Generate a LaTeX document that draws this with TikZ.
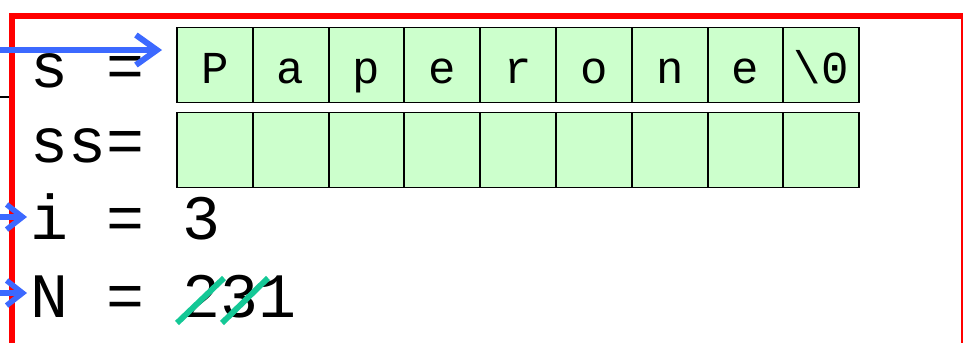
\documentclass[tikz,border=0pt]{standalone}
\usepackage{fontspec}
\usetikzlibrary{arrows.meta}
\newfontfamily\monofont{Liberation Mono}
\definecolor{framered}{RGB}{255,0,0}
\definecolor{ptrblue}{RGB}{60,105,255}
\definecolor{cellgreen}{RGB}{204,255,204}
\definecolor{strikegreen}{RGB}{20,200,150}

\begin{document}
\begin{tikzpicture}[x=0.02cm,y=-0.02cm,
        var/.style={anchor=base west,inner sep=0pt,font=\monofont\fontsize{36}{44}\selectfont},
        cell/.style={draw=black,line width=1.1pt,fill=cellgreen,minimum width=1.516cm,minimum height=1.5cm,
            inner sep=0pt,text height=0.72cm,text depth=0pt,font=\monofont\fontsize{26}{32}\selectfont},
        ptr/.style={-{Straight Barb[length=0.42cm,width=0.6cm]},line width=3.4pt,ptrblue},
        ptrsmall/.style={-{Straight Barb[length=0.32cm,width=0.5cm]},line width=3.1pt,ptrblue},
        strike/.style={line width=3.3pt,strikegreen}]
        \useasboundingbox(0,0)rectangle(963,342);
        \clip(0,0)rectangle(963,342);

        % frame of the stack
        \draw[line width=0.04cm](0,97)--(10,97);
        \draw[framered,line width=0.11cm](12,16)rectangle(964,420);

        % the two arrays
        \foreach \c [count=\k] in {P,a,p,e,r,o,n,e,\textbackslash 0}
            \node[cell](s\k)at({214.9+75.8*(\k-1)},65){\c};
        \foreach \k in {1,...,9}
            \node[cell](ss\k)at({214.9+75.8*(\k-1)},150){};

        % variables
        \node[var](vs)at(30.5,87){s =};
        \node[var](vss)at(30.5,162){ss=};
        \node[var](vi)at(30.5,239){i = 3};
        \node[var](vn)at(30.5,317){N = 231};
        \draw[strike](177,323)--(224,278);
        \draw[strike](222,323)--(268,278);

        % pointers
        \coordinate(inS)at(0,50);
        \coordinate(inI)at(0,217);
        \coordinate(inN)at(0,293);
        \draw[ptr,shorten >=0.28cm](inS)--(inS -| s1.west);
        \draw[ptrsmall,shorten >=0.07cm](inI)--(inI -| vi.west);
        \draw[ptrsmall,shorten >=0.07cm](inN)--(inN -| vn.west);
    \end{tikzpicture}
\end{document}
